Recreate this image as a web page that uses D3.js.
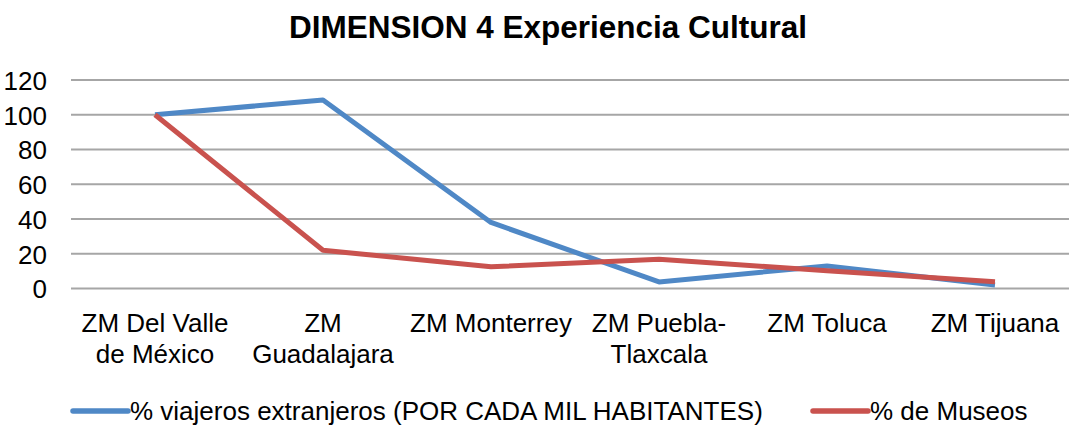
<!DOCTYPE html>
<html>
<head>
<meta charset="utf-8">
<script src="https://cdn.jsdelivr.net/npm/d3@7"></script>
<style>
  html, body { margin: 0; padding: 0; background: #fff; }
  svg { display: block; font-family: "Liberation Sans", Arial, sans-serif; }
</style>
</head>
<body>
<svg id="chart" width="1069" height="427"></svg>
<script>
const categories = [
  ["ZM Del Valle", "de México"],
  ["ZM", "Guadalajara"],
  ["ZM Monterrey"],
  ["ZM Puebla-", "Tlaxcala"],
  ["ZM Toluca"],
  ["ZM Tijuana"]
];
const viajeros = [100, 108.5, 38, 3.8, 13, 2];
const museos = [100, 22, 12.5, 16.8, 10.2, 3.9];
const yTicks = [0, 20, 40, 60, 80, 100, 120];
const seriesNames = ["% viajeros extranjeros (POR CADA MIL HABITANTES)", "% de Museos"];
const colors = ["#4F88C6", "#C9524E"];
const title = "DIMENSION 4 Experiencia Cultural";

const svg = d3.select("#chart");
const W = 1069, H = 427;

const x = d3.scalePoint()
  .domain(d3.range(categories.length))
  .range([71, 1079])
  .padding(0.5);
const y = d3.scaleLinear().domain([0, 120]).range([288.5, 80]);

// title
svg.append("text")
  .attr("x", 548).attr("y", 38)
  .attr("text-anchor", "middle")
  .attr("font-weight", "bold")
  .attr("font-size", 31.5)
  .attr("fill", "#000")
  .text(title);

// gridlines
svg.append("g").selectAll("line").data(yTicks).join("line")
  .attr("x1", 71).attr("x2", W)
  .attr("y1", d => y(d)).attr("y2", d => y(d))
  .attr("stroke", "#a6a6a6").attr("stroke-width", 2);

// y axis labels
const yAxis = d3.axisLeft(y).tickValues(yTicks).tickSize(0).tickPadding(0);
const gy = svg.append("g").attr("transform", "translate(47,0)").call(yAxis);
gy.select(".domain").remove();
gy.selectAll("text")
  .attr("font-size", 26)
  .attr("font-family", "Liberation Sans, Arial, sans-serif")
  .attr("fill", "#000")
  .attr("dy", "0.36em");

// x labels
const xl = svg.append("g");
categories.forEach((lines, i) => {
  const t = xl.append("text")
    .attr("x", x(i)).attr("y", 332)
    .attr("text-anchor", "middle")
    .attr("font-size", 26)
    .attr("fill", "#000");
  lines.forEach((ln, j) => {
    t.append("tspan").attr("x", x(i)).attr("dy", j === 0 ? 0 : 31).text(ln);
  });
});

// lines
const line = d3.line().x((d, i) => x(i)).y(d => y(d));
[viajeros, museos].forEach((s, k) => {
  svg.append("path")
    .datum(s)
    .attr("d", line)
    .attr("fill", "none")
    .attr("stroke", colors[k])
    .attr("stroke-width", 5)
    .attr("stroke-linejoin", "round");
});

// legend
const legendItems = [
  { x: 73, name: seriesNames[0], color: colors[0] },
  { x: 813, name: seriesNames[1], color: colors[1] }
];
legendItems.forEach(it => {
  svg.append("line")
    .attr("x1", it.x).attr("x2", it.x + 55)
    .attr("y1", 411).attr("y2", 411)
    .attr("stroke", it.color).attr("stroke-width", 5.5)
    .attr("stroke-linecap", "round");
  svg.append("text")
    .attr("x", it.x + 57).attr("y", 420)
    .attr("font-size", 26)
    .attr("fill", "#000")
    .text(it.name);
});
</script>
</body>
</html>
